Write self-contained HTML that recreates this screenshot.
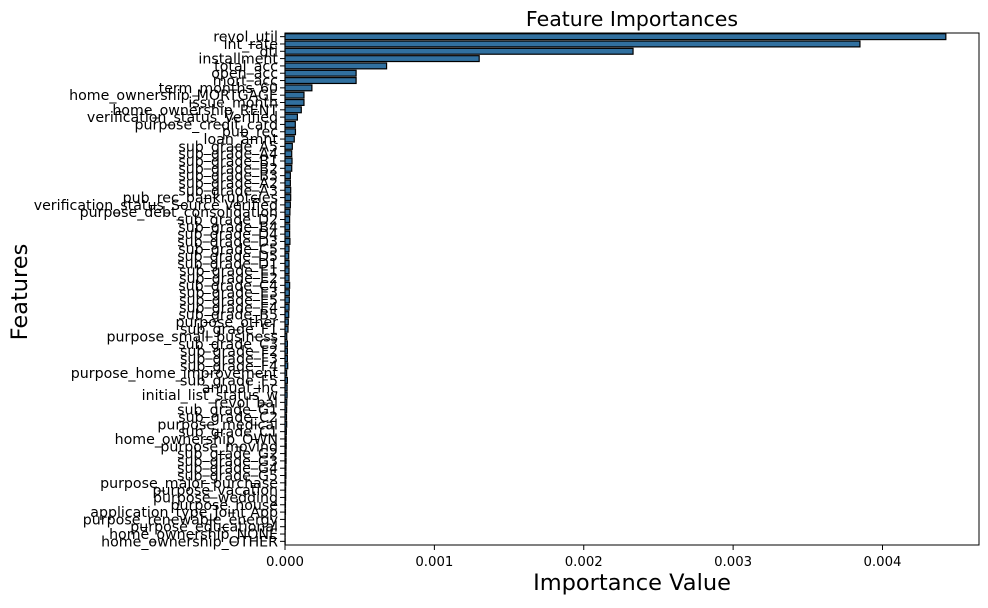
<!DOCTYPE html>
<html><head><meta charset="utf-8"><style>
body{margin:0;background:#fff;font-family:"DejaVu Sans","Liberation Sans",sans-serif}
svg text{font-family:"DejaVu Sans","Liberation Sans",sans-serif;fill:#000}
</style></head><body>
<svg id="chart" width="988" height="604" xmlns="http://www.w3.org/2000/svg"></svg>
<script>
const features=["revol_util","int_rate","dti","installment","total_acc","open_acc","mort_acc","term_months_60","home_ownership_MORTGAGE","issue_month","home_ownership_RENT","verification_status_Verified","purpose_credit_card","pub_rec","loan_amnt","sub_grade_A5","sub_grade_A4","sub_grade_B1","sub_grade_B2","sub_grade_B3","sub_grade_A2","sub_grade_A3","pub_rec_bankruptcies","verification_status_Source Verified","purpose_debt_consolidation","sub_grade_D2","sub_grade_B4","sub_grade_D4","sub_grade_D3","sub_grade_C5","sub_grade_D5","sub_grade_D1","sub_grade_E1","sub_grade_E2","sub_grade_C4","sub_grade_E3","sub_grade_E5","sub_grade_E4","sub_grade_B5","purpose_other","sub_grade_F1","purpose_small_business","sub_grade_C3","sub_grade_F2","sub_grade_F3","sub_grade_F4","purpose_home_improvement","sub_grade_F5","annual_inc","initial_list_status_w","revol_bal","sub_grade_G1","sub_grade_C2","purpose_medical","sub_grade_C1","home_ownership_OWN","purpose_moving","sub_grade_G2","sub_grade_G3","sub_grade_G4","sub_grade_G5","purpose_major_purchase","purpose_vacation","purpose_wedding","purpose_house","application_type_Joint App","purpose_renewable_energy","purpose_educational","home_ownership_NONE","home_ownership_OTHER"];
const importances=[0.004424,0.003849,0.00233,0.0013,0.00068,0.000476,0.000476,0.00018,0.000127,0.000127,0.000109,0.000083,0.000069,0.00007,0.000062,0.000049,0.000045,0.000047,0.000045,0.000036,0.000036,0.000038,0.000038,0.000036,0.000033,0.000031,0.000031,0.000031,0.000033,0.000027,0.000025,0.000027,0.000027,0.000027,0.000031,0.000029,0.000029,0.000027,0.000025,0.000022,0.00002,0.000012,0.000016,0.000016,0.000016,0.000018,0.000011,0.000016,0.000014,0.000014,0.000012,0.000011,0.00001,0.000011,0.000009,0.000008,0.000008,0.000007,0.000007,0.000006,0.000006,0.000005,0.000004,0.000004,0.000003,0.000003,0.000002,0.000002,0.000001,0.000001];
const xTicks=[0,0.001,0.002,0.003,0.004];
const xTickLabels=["0.000","0.001","0.002","0.003","0.004"];
const L=285,R=979,T=33,B=545,XMAX=0.004646;
const svg=document.getElementById('chart');
const NS='http://www.w3.org/2000/svg';
const x=v=>L+v/XMAX*(R-L);
const rowH=(B-T)/features.length;
const y=i=>T+(i+0.5)*rowH;
function mk(tag,attrs,txt){const e=document.createElementNS(NS,tag);for(const k in attrs)e.setAttribute(k,attrs[k]);if(txt!==undefined)e.textContent=txt;svg.appendChild(e);return e;}
features.forEach((f,i)=>{
  const bh=rowH*0.8;
  const r=mk('rect',{x:x(0),y:y(i)-bh/2,width:Math.max(0,x(importances[i])-x(0)),height:bh,fill:'#31709f',stroke:'#000','stroke-width':1.2});
  
  
  const tk=mk('line',{x1:L-5,x2:L,y1:y(i),y2:y(i),stroke:'#000','stroke-width':1});
  
  
  const t=mk('text',{x:L-7,y:y(i)+5,'text-anchor':'end','font-size':14.2},f);
  
  
});
xTicks.forEach((v,i)=>{
  const tk=mk('line',{x1:x(v),x2:x(v),y1:B,y2:B+5,stroke:'#000','stroke-width':1});
  
  
  const t=mk('text',{x:x(v),y:B+21,'text-anchor':'middle','font-size':13.3},xTickLabels[i]);
  
  
});
const fr=mk('rect',{x:L,y:T,width:R-L,height:B-T,fill:'none',stroke:'#000','stroke-width':1});


const ti=mk('text',{x:(L+R)/2,y:26,'text-anchor':'middle','font-size':20.5},'Feature Importances');


const xl=mk('text',{x:(L+R)/2,y:590,'text-anchor':'middle','font-size':22.5},'Importance Value');


const yl=mk('text',{x:0,y:0,'text-anchor':'middle','font-size':22.5,transform:'translate(27,292) rotate(-90)'},'Features');


</script>
</body></html>
